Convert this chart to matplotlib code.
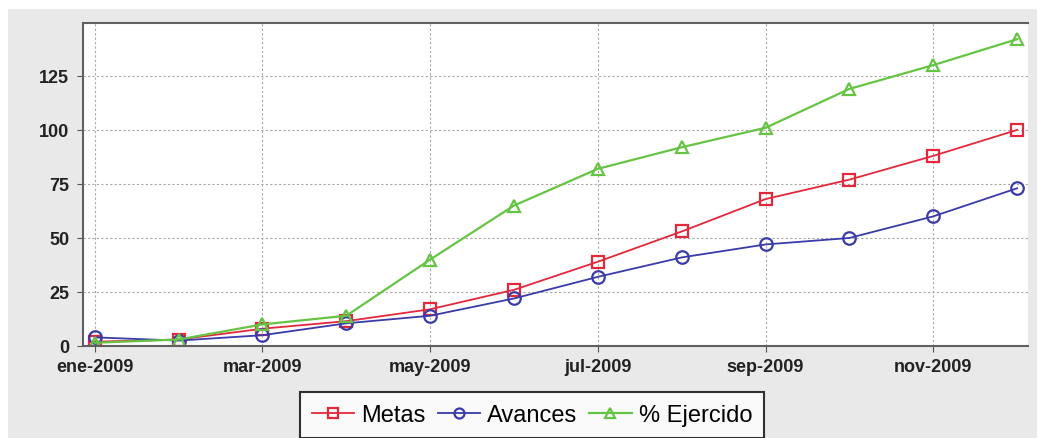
import matplotlib
matplotlib.use("Agg")
import matplotlib.pyplot as plt
from matplotlib.patches import Rectangle

months = ["ene-2009", "feb-2009", "mar-2009", "abr-2009", "may-2009", "jun-2009",
          "jul-2009", "ago-2009", "sep-2009", "oct-2009", "nov-2009", "dic-2009"]
metas = [2, 3, 8, 11.5, 17, 26, 39, 53, 68, 77, 88, 100]
avances = [4, 2.5, 5, 10.5, 14, 22, 32, 41, 47, 50, 60, 73]
ejercido = [1.5, 3, 10, 14, 40, 65, 82, 92, 101, 119, 130, 142]

plt.rcParams['font.family'] = ['Liberation Sans', 'DejaVu Sans']

fig = plt.figure(figsize=(10.37, 4.39), dpi=100)
fig.patch.set_facecolor('white')
# gray panel behind the chart
fig.patches.append(Rectangle((8 / 1037, 0), 1, 1 - 10 / 439, transform=fig.transFigure,
                             facecolor='#e9e9e9', edgecolor='none', zorder=-1))

ax = fig.add_axes([83 / 1037, 1 - 347 / 439, (1028 - 83) / 1037, (347 - 24) / 439])
ax.set_facecolor('white')

x = list(range(len(months)))
ax.plot(x, metas, color='#e4283c', lw=1.3, marker='s', ms=9, mfc='none', mew=1.6, label='Metas')
ax.plot(x, avances, color='#3a3aa8', lw=1.3, marker='o', ms=9, mfc='none', mew=1.6, label='Avances')
ax.plot(x, ejercido, color='#66c444', lw=1.6, marker='^', ms=9, mfc='none', mew=1.6, label='% Ejercido')

ax.set_xlim(-0.14, 11.13)
ax.set_ylim(0, 149.5)
ax.set_yticks([0, 25, 50, 75, 100, 125])
ax.set_xticks(x[::2])
ax.set_xticklabels(months[::2])
ax.tick_params(labelsize=13, length=4, color='#555555')
ax.tick_params(axis='x', pad=5)
ax.tick_params(axis='y', pad=6)
for lbl in ax.get_xticklabels() + ax.get_yticklabels():
    lbl.set_fontweight('bold')
    lbl.set_color('#222222')
ax.grid(True, color='#a8a8a8', linestyle=(0, (2, 2)), lw=0.8)

for side in ['left', 'bottom', 'top']:
    ax.spines[side].set_color('#606060')
    ax.spines[side].set_linewidth(1.5)
ax.spines['right'].set_visible(False)

leg = fig.legend(loc='upper center', bbox_to_anchor=(532 / 1037, 1 - 393 / 439), ncol=3,
                 fontsize=17, frameon=True, fancybox=False, edgecolor='black',
                 handlelength=1.8, handletextpad=0.3, columnspacing=0.5, borderpad=0.5,
                 borderaxespad=0, markerscale=0.8)
leg.get_frame().set_linewidth(1.5)

fig.savefig("out.png", dpi=100)
